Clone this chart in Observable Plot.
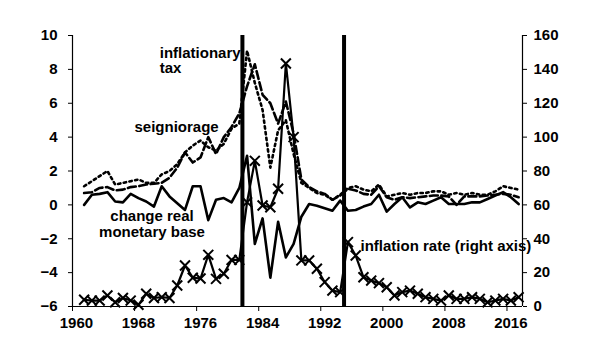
<!DOCTYPE html>
<html><head><meta charset="utf-8">
<script src="https://cdn.jsdelivr.net/npm/d3@7"></script>
<script src="https://cdn.jsdelivr.net/npm/@observablehq/plot@0.6"></script>
<style>
body{margin:0;background:#fff}
#chart svg{font-family:Arial,"Liberation Sans",sans-serif;}
</style>
</head><body><div id="chart"></div>
<script>
// Years (categories)
const years = d3.range(1961, 2018);

// Seigniorage (% , left axis) - dotted
const seigniorage = [1.1,1.4,1.7,2.0,1.2,1.3,1.4,1.5,1.3,1.3,1.8,2.0,2.4,3.1,3.5,3.8,3.4,3.2,3.6,4.5,4.8,9.1,7.2,5.6,2.2,4.4,5.0,3.0,1.3,1.0,0.7,0.6,0.3,0.6,1.0,1.1,0.9,0.8,1.2,0.5,0.6,0.7,0.6,0.7,0.7,0.8,0.8,0.6,0.7,0.6,0.7,0.6,0.6,0.8,1.1,1.0,0.9];

// Inflationary tax (% , left axis) - dashed
const inflationaryTax = [0.7,0.75,1.0,1.05,0.85,0.9,1.05,1.1,1.2,1.25,1.3,1.6,2.2,3.1,2.5,2.8,4.0,3.0,4.0,4.6,5.4,7.0,8.3,6.5,6.0,4.8,6.1,4.2,1.5,1.05,0.8,0.65,0.3,0.55,0.95,0.85,0.65,0.6,1.1,0.45,0.3,0.45,0.4,0.45,0.5,0.55,0.55,0.5,0.0,0.5,0.5,0.5,0.55,0.6,0.65,0.6,0.45];

// Change in real monetary base (% , left axis) - solid
const changeRealBase = [0.0,0.6,0.65,0.75,0.2,0.15,0.65,0.4,0.2,-0.1,1.1,0.5,0.1,-0.3,1.1,1.1,-0.9,0.3,0.4,0.15,1.0,2.9,-2.3,-0.8,-4.3,-1.0,-3.1,-2.3,-0.7,0.05,-0.05,-0.2,-0.35,0.25,-0.35,-0.3,-0.1,0.05,0.6,-0.4,0.05,0.45,-0.15,0.15,0.05,0.25,0.45,0.05,0.05,0.05,0.15,0.15,0.35,0.55,0.75,0.45,0.05];

// Inflation rate (% , right axis) - X markers
const inflationRate = [4.0,3.5,3.5,6.5,2.5,5.0,3.5,1.0,7.5,5.0,5.5,5.0,12.4,24.2,17.0,16.5,30.5,16.3,19.3,27.5,27.5,61.6,86.0,59.6,58.6,69.5,143.5,100,27.2,27.2,22.3,14.4,9.4,8.5,38,30.1,17.3,15.3,13.8,11.4,6.5,8.5,9.4,7.5,5.5,4.5,3.5,6.5,4.5,4.5,5.5,4.5,2.5,3.5,4.5,3.5,5.5];

// Crisis markers (vertical lines)
const crisisYears = [1981.4, 1994.5];

// Axis ticks
const leftTicks = [-6,-4,-2,0,2,4,6,8,10];
const rightTicks = [0,20,40,60,80,100,120,140,160];
const xLabelYears = [1960,1968,1976,1984,1992,2000,2008,2016];
const xTickBounds = [1959.5,1967.5,1975.5,1983.5,1991.5,1999.5,2007.5,2015.5];

const leftMin = -6, leftMax = 10, rightMax = 160;
const toLeft = r => leftMin + r * (leftMax - leftMin) / rightMax;

const data = years.map((year, i) => ({
  year,
  seign: seigniorage[i],
  tax: inflationaryTax[i],
  base: changeRealBase[i],
  infl: inflationRate[i]
}));

const font = {fontSize: 15, fontWeight: "bold", fill: "black"};

const chart = Plot.plot({
  width: 600,
  height: 360,
  marginLeft: 72,
  marginRight: 78,
  marginTop: 35,
  marginBottom: 54,
  x: {domain: [1959.5, 2017.5], axis: null},
  y: {domain: [leftMin, leftMax], axis: null},
  marks: [
    Plot.ruleX(crisisYears, {stroke: "black", strokeWidth: 4}),
    Plot.line(data, {x: "year", y: d => toLeft(d.infl), stroke: "black", strokeWidth: 2.2}),
    Plot.dot(data, {x: "year", y: d => toLeft(d.infl), symbol: "times", r: 4.6, stroke: "black", strokeWidth: 2}),
    Plot.line(data, {x: "year", y: "seign", stroke: "black", strokeWidth: 2.6, strokeDasharray: "2.4,3.4"}),
    Plot.line(data, {x: "year", y: "tax", stroke: "black", strokeWidth: 2.6, strokeDasharray: "8,3.5"}),
    Plot.line(data, {x: "year", y: "base", stroke: "black", strokeWidth: 2.6}),
    // axis lines
    Plot.ruleX([1959.5, 2017.5], {stroke: "black", strokeWidth: 1.2}),
    Plot.ruleY([leftMin], {stroke: "black", strokeWidth: 1.2}),
    // left axis
    Plot.axisY(leftTicks, {anchor: "left", tickSize: 4, tickPadding: 11, label: null, ...font, stroke: "black"}),
    // right axis
    Plot.axisY(rightTicks.map(toLeft), {anchor: "right", tickSize: 4, tickPadding: 7, label: null,
      tickFormat: (d, i) => String(rightTicks[i]), ...font, stroke: "black"}),
    // x axis labels and ticks
    Plot.axisX(xLabelYears, {anchor: "bottom", tickSize: 0, tickPadding: 11, label: null, tickFormat: d => String(d), ...font}),
    Plot.axisX(xTickBounds, {anchor: "bottom", tickSize: 5, label: null, tickFormat: () => "", stroke: "black"}),
    // annotations
    Plot.text(["inflationary\ntax"], {x: 1970.75, y: 7.76, text: d => d, textAnchor: "start", lineAnchor: "bottom", lineHeight: 1.05, ...font}),
    Plot.text(["seigniorage"], {x: 1967.49, y: 4.30, text: d => d, textAnchor: "start", lineAnchor: "bottom", ...font}),
    Plot.text(["change real\nmonetary base"], {x: 1969.75, y: -1.92, text: d => d, textAnchor: "middle", lineAnchor: "bottom", lineHeight: 1.09, ...font}),
    Plot.text(["inflation rate (right axis)"], {x: 1996.62, y: -2.73, text: d => d, textAnchor: "start", lineAnchor: "bottom", ...font})
  ]
});
document.getElementById("chart").appendChild(chart);
</script>
</body></html>
